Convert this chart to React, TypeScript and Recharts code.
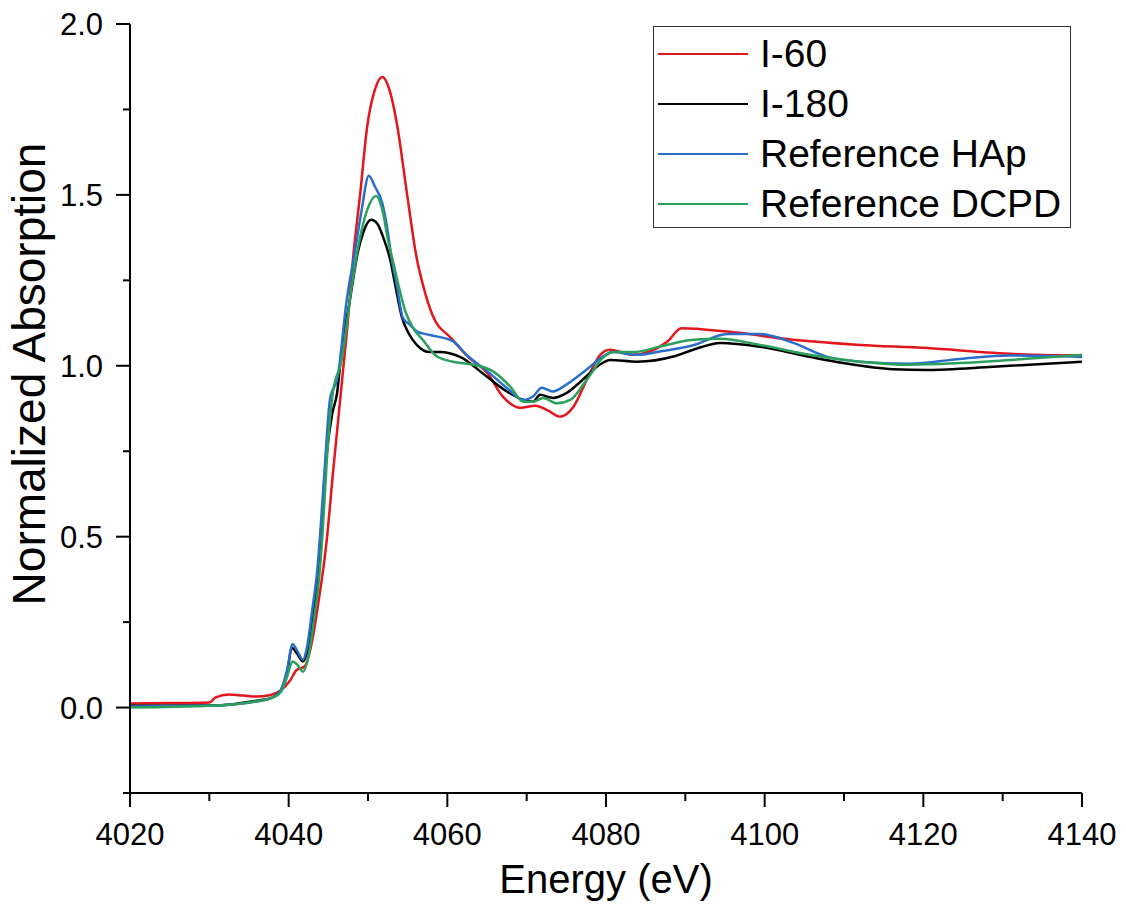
import React from 'react';
import { LineChart, Line, XAxis, YAxis } from 'recharts';

// energies (eV) and normalized absorption
const energyI60 = [4020, 4025, 4030, 4030.8, 4032.5, 4034.3, 4036, 4037.6, 4039, 4040.2, 4041, 4042, 4043, 4043.7, 4044.8, 4045.6, 4046.7, 4047.5, 4048.1, 4049, 4049.9, 4050.9, 4051.8, 4052.8, 4053.7, 4054.9, 4056.1, 4057, 4058.1, 4060.5, 4062.9, 4065, 4067, 4069.2, 4071.1, 4072.6, 4074.2, 4075.9, 4077.6, 4079.2, 4080.5, 4083.4, 4087.7, 4089.5, 4095.3, 4103.6, 4112, 4120.5, 4128.8, 4133.8, 4140];
const valuesI60 = [0.012, 0.013, 0.015, 0.03, 0.038, 0.035, 0.032, 0.036, 0.05, 0.08, 0.11, 0.12, 0.2, 0.3, 0.49, 0.69, 0.95, 1.14, 1.31, 1.5, 1.7, 1.81, 1.845, 1.8, 1.7, 1.506, 1.32, 1.23, 1.15, 1.08, 1.02, 0.98, 0.91, 0.877, 0.883, 0.87, 0.851, 0.88, 0.96, 1.03, 1.047, 1.032, 1.07, 1.11, 1.1, 1.076, 1.061, 1.052, 1.038, 1.032, 1.03];

const energyI180 = [4020, 4030, 4033, 4036, 4038, 4039, 4039.8, 4040.4, 4041, 4041.8, 4042.4, 4043.1, 4043.7, 4044.2, 4044.6, 4045.5, 4046.1, 4046.7, 4047.7, 4048.7, 4049.4, 4050.4, 4051.2, 4051.9, 4052.8, 4053.4, 4054.3, 4055.1, 4056.2, 4057.8, 4059, 4061.6, 4065, 4067.5, 4069.6, 4070.8, 4071.7, 4073.3, 4075, 4077.1, 4079.2, 4080.5, 4083.9, 4088.5, 4091, 4094.4, 4099.4, 4105.7, 4109.9, 4116.2, 4120.5, 4128.8, 4140];
const valuesI180 = [0.005, 0.006, 0.01, 0.02, 0.03, 0.05, 0.1, 0.175, 0.16, 0.135, 0.17, 0.28, 0.39, 0.54, 0.69, 0.86, 0.92, 1.05, 1.19, 1.33, 1.39, 1.427, 1.415, 1.377, 1.31, 1.24, 1.14, 1.096, 1.06, 1.04, 1.04, 1.026, 0.968, 0.925, 0.9, 0.895, 0.915, 0.906, 0.92, 0.96, 1.003, 1.017, 1.012, 1.027, 1.047, 1.067, 1.056, 1.026, 1.008, 0.99, 0.988, 0.997, 1.012];

const energyHAp = [4020, 4030, 4033, 4036, 4038, 4039, 4039.8, 4040.5, 4041.1, 4041.8, 4042.3, 4043, 4043.6, 4044.1, 4044.6, 4045.2, 4046.2, 4047.3, 4048.4, 4049.2, 4050.1, 4050.9, 4051.8, 4052.4, 4053, 4053.6, 4054.4, 4055.3, 4056.2, 4057.8, 4060.7, 4062.5, 4065, 4067.5, 4069.6, 4070.8, 4071.9, 4073.3, 4075, 4077.6, 4079.6, 4080.8, 4083.9, 4086.8, 4091, 4095.3, 4099.4, 4103.6, 4107.9, 4112, 4118.3, 4124.6, 4130.9, 4140];
const valuesHAp = [0.003, 0.005, 0.009, 0.018, 0.03, 0.05, 0.11, 0.185, 0.165, 0.14, 0.175, 0.29, 0.4, 0.55, 0.72, 0.9, 0.97, 1.19, 1.34, 1.456, 1.556, 1.523, 1.476, 1.406, 1.31, 1.24, 1.14, 1.12, 1.1, 1.09, 1.072, 1.03, 0.985, 0.935, 0.9, 0.91, 0.936, 0.925, 0.945, 0.99, 1.027, 1.04, 1.032, 1.042, 1.06, 1.093, 1.093, 1.067, 1.026, 1.012, 1.006, 1.02, 1.03, 1.026];

const energyDCPD = [4020, 4030, 4035, 4038, 4039, 4039.8, 4040.5, 4041.1, 4041.8, 4042.5, 4043.2, 4043.8, 4044.3, 4044.8, 4045.5, 4046.7, 4048, 4048.7, 4049.9, 4051, 4051.9, 4052.5, 4053.1, 4053.8, 4054.7, 4055.7, 4056.9, 4058.7, 4060.7, 4063.3, 4065.8, 4067.9, 4069.6, 4070.8, 4072.1, 4073.8, 4075.5, 4077.6, 4079.6, 4080.9, 4083.4, 4086.8, 4091, 4094.4, 4099.4, 4105.7, 4112, 4118.3, 4124.6, 4130.9, 4140];
const valuesDCPD = [0.0, 0.005, 0.015, 0.03, 0.045, 0.09, 0.135, 0.125, 0.105, 0.15, 0.26, 0.37, 0.52, 0.72, 0.91, 1.02, 1.24, 1.34, 1.456, 1.497, 1.447, 1.37, 1.31, 1.24, 1.16, 1.11, 1.076, 1.027, 1.012, 1.003, 0.983, 0.94, 0.895, 0.895, 0.906, 0.89, 0.9, 0.96, 1.023, 1.04, 1.04, 1.056, 1.076, 1.079, 1.061, 1.032, 1.012, 1.003, 1.008, 1.017, 1.032];

const xTicks = [4020, 4030, 4040, 4050, 4060, 4070, 4080, 4090, 4100, 4110, 4120, 4130, 4140];
const yTicks = [-0.25, 0, 0.25, 0.5, 0.75, 1, 1.25, 1.5, 1.75, 2];

const zip = (xs: number[], ys: number[]) => xs.map((e, i) => ({ e, v: ys[i] }));

const series = [
  { name: 'I-60', color: '#e3151d', data: zip(energyI60, valuesI60) },
  { name: 'I-180', color: '#000000', data: zip(energyI180, valuesI180) },
  { name: 'Reference HAp', color: '#2a6ecb', data: zip(energyHAp, valuesHAp) },
  { name: 'Reference DCPD', color: '#2ba05c', data: zip(energyDCPD, valuesDCPD) },
];

const FONT = '"Liberation Sans", Arial, sans-serif';

const XTick = (props: any) => {
  const { x, y, payload } = props;
  const major = payload.value % 20 === 0;
  return (
    <g>
      <line x1={x} x2={x} y1={y} y2={y + (major ? 14 : 8)} stroke="#000" strokeWidth={2} />
      {major && (
        <text x={x} y={y + 52} textAnchor="middle" fontSize={31} fontFamily={FONT} fill="#000">
          {payload.value}
        </text>
      )}
    </g>
  );
};

const YTick = (props: any) => {
  const { x, y, payload } = props;
  const v = payload.value;
  const major = Math.abs(v * 2 - Math.round(v * 2)) < 1e-6;
  return (
    <g>
      <line x1={x - (major ? 14 : 7)} x2={x} y1={y} y2={y} stroke="#000" strokeWidth={2} />
      {major && (
        <text x={x - 27} y={y + 11} textAnchor="end" fontSize={31} fontFamily={FONT} fill="#000">
          {v.toFixed(1)}
        </text>
      )}
    </g>
  );
};

const App: React.FC = () => {
  return (
    <div style={{ position: 'absolute', left: 0, top: 0, width: 1126, height: 915, background: '#fff', fontFamily: FONT }}>
      <LineChart width={1126} height={915} margin={{ top: 24, right: 44, left: 70, bottom: 62 }}>
        <XAxis
          dataKey="e"
          type="number"
          domain={[4020, 4140]}
          ticks={xTicks}
          interval={0}
          tickSize={0}
          tickMargin={0}
          tickLine={false}
          tick={<XTick />}
          height={60}
          axisLine={{ stroke: '#000', strokeWidth: 2 }}
          allowDuplicatedCategory={false}
        />
        <YAxis
          dataKey="v"
          type="number"
          domain={[-0.25, 2]}
          ticks={yTicks}
          interval={0}
          tickSize={0}
          tickMargin={0}
          tickLine={false}
          tick={<YTick />}
          width={60}
          axisLine={{ stroke: '#000', strokeWidth: 2 }}
        />
        {series.map((s) => (
          <Line
            key={s.name}
            data={s.data}
            dataKey="v"
            name={s.name}
            type="monotone"
            stroke={s.color}
            strokeWidth={2.5}
            dot={false}
            isAnimationActive={false}
          />
        ))}
      </LineChart>

      <div
        style={{
          position: 'absolute',
          left: 653,
          top: 26,
          width: 418,
          height: 202,
          border: '1.5px solid #333',
          boxSizing: 'border-box',
          paddingTop: 2,
        }}
      >
        {series.map((s) => (
          <div key={s.name} style={{ display: 'flex', alignItems: 'center', height: 50 }}>
            <div style={{ marginLeft: 4, width: 90, height: 2.5, background: s.color }} />
            <span style={{ marginLeft: 12, fontSize: 39, lineHeight: '50px', color: '#000', whiteSpace: 'nowrap' }}>{s.name}</span>
          </div>
        ))}
      </div>

      <div
        style={{
          position: 'absolute',
          left: 606,
          top: 859,
          transform: 'translateX(-50%)',
          fontSize: 40,
          lineHeight: '40px',
          whiteSpace: 'nowrap',
          color: '#000',
        }}
      >
        Energy (eV)
      </div>
      <div
        style={{
          position: 'absolute',
          left: 29,
          top: 374,
          transform: 'translate(-50%, -50%) rotate(-90deg)',
          fontSize: 46,
          lineHeight: '46px',
          whiteSpace: 'nowrap',
          color: '#000',
        }}
      >
        Normalized Absorption
      </div>
    </div>
  );
};

export default App;
